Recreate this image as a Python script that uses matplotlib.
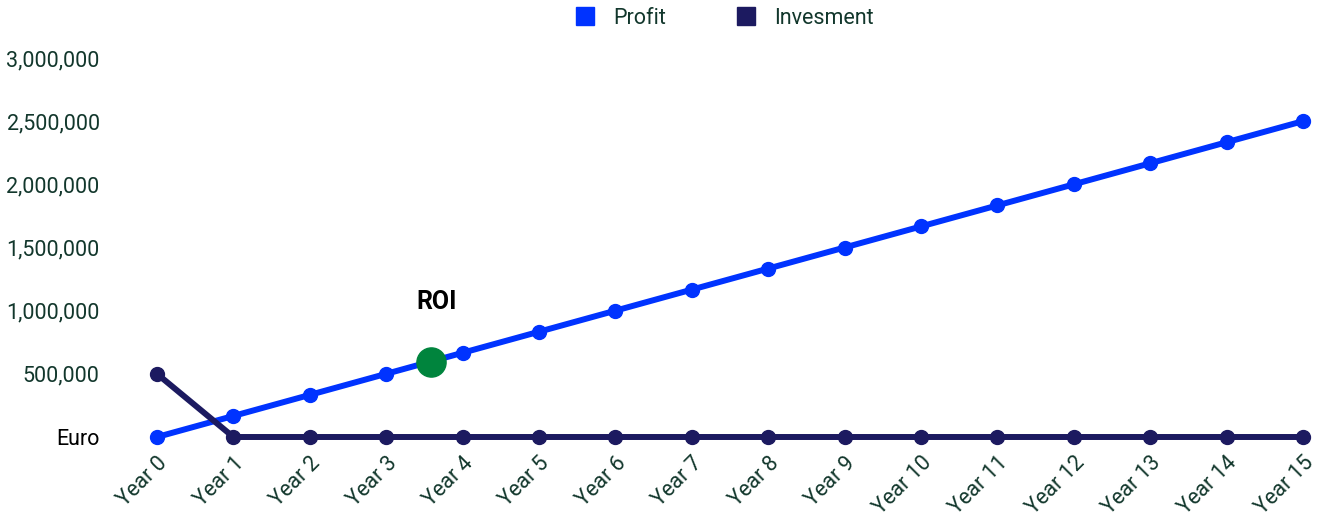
import matplotlib
matplotlib.use("Agg")
import matplotlib.pyplot as plt
from matplotlib.lines import Line2D
from matplotlib.ticker import FuncFormatter

plt.rcParams['font.family'] = ['Roboto', 'DejaVu Sans']

years = ["Year %d" % i for i in range(16)]
profit = [0, 166667, 333333, 500000, 666667, 833333, 1000000, 1166667,
          1333333, 1500000, 1666667, 1833333, 2000000, 2166667, 2333333, 2500000]
investment = [500000, 0, 0, 0, 0, 0, 0, 0, 0, 0, 0, 0, 0, 0, 0, 0]
roi_x = 3.58
roi_y = 595000
roi_label = "ROI"
y_ticks = [0, 500000, 1000000, 1500000, 2000000, 2500000, 3000000]

BLUE = "#0033FF"
NAVY = "#1C1A60"
GREEN = "#00843D"
TXT = "#12372C"

W, H = 1326, 517
fig = plt.figure(figsize=(W / 100, H / 100), dpi=100)
L, R, T, B = 140, 1320, 50, 447
ax = fig.add_axes([L / W, 1 - B / H, (R - L) / W, (B - T) / H])

px_x = (1303 - 157) / 15.0
px_y = (437 - 58) / 3000000.0
ax.set_xlim(-(157 - L) / px_x, 15 + (R - 1303) / px_x)
ax.set_ylim(-(B - 437) / px_y, 3000000 + (58 - T) / px_y)

x = list(range(len(years)))
ax.plot(x, profit, color=BLUE, lw=4.3, marker='o', ms=10, zorder=3)
ax.plot(x, investment, color=NAVY, lw=4.3, marker='o', ms=10, zorder=4)
ax.plot([roi_x], [roi_y], marker='o', ms=21, color=GREEN, zorder=5, lw=0)
ax.annotate(roi_label, (roi_x, roi_y), xytext=(6, 60), textcoords='offset pixels',
            ha='center', va='center', fontsize=18, fontweight='bold', color='black')

for s in ax.spines.values():
    s.set_visible(False)

ax.set_yticks(y_ticks)
ax.yaxis.set_major_formatter(FuncFormatter(lambda v, p: "Euro" if v == 0 else f"{int(v):,}"))
ax.tick_params(axis='y', length=0, pad=29, labelsize=15.5, labelcolor=TXT)
for lab in ax.get_yticklabels():
    if lab.get_text() == "Euro":
        lab.set_color('black')

ax.set_xticks(x)
ax.set_xticklabels(years, rotation=45, ha='right', va='top', rotation_mode='anchor')
ax.tick_params(axis='x', length=0, pad=4, labelsize=15.5, labelcolor=TXT)

handles = [Line2D([], [], marker='s', ls='none', color=BLUE, ms=13.5),
           Line2D([], [], marker='s', ls='none', color=NAVY, ms=13.5)]
fig.legend(handles, ["Profit", "Invesment"], loc='center', bbox_to_anchor=(724 / W, 1 - 18 / H),
           ncol=2, frameon=False, fontsize=15.5, labelcolor=TXT, handletextpad=0.8,
           columnspacing=3.2, handlelength=1.0)

fig.savefig("out.png", dpi=100)
